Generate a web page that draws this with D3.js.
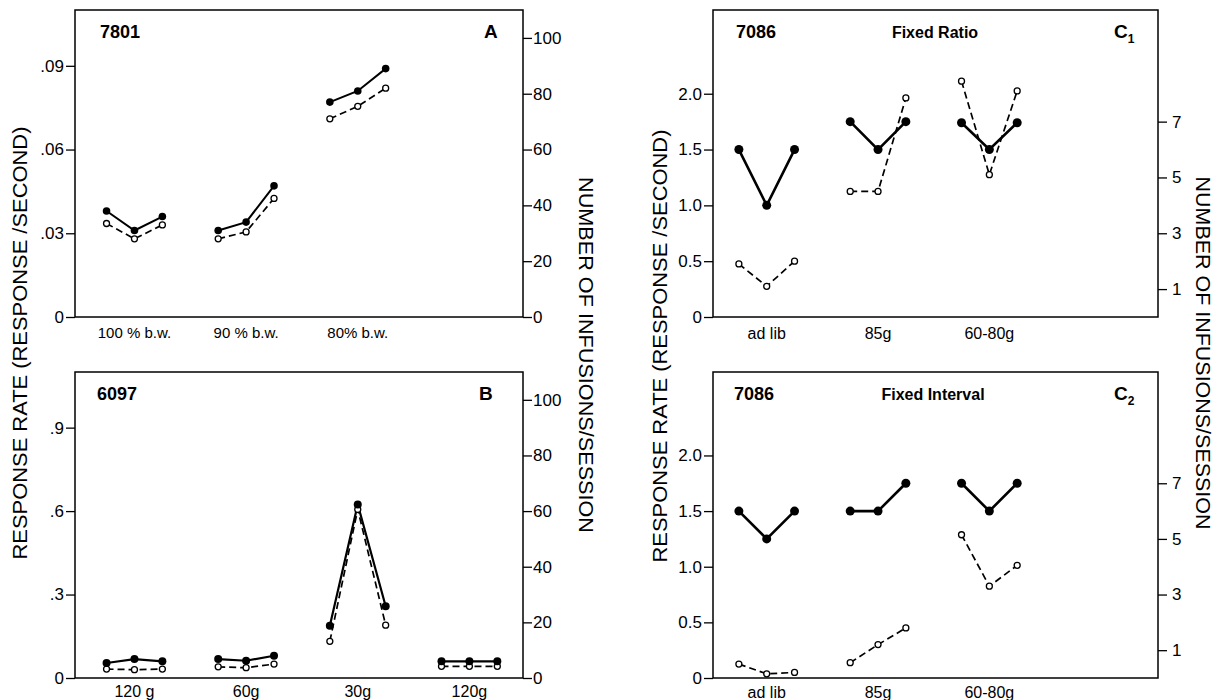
<!DOCTYPE html>
<html>
<head>
<meta charset="utf-8">
<script src="https://cdn.jsdelivr.net/npm/d3@7"></script>
<style>
  body { margin: 0; background: #fff; }
  text { font-family: "Liberation Sans", Arial, sans-serif; fill: #000; }
</style>
</head>
<body>
<svg width="1219" height="700"></svg>
<script>
// panel A, rat 7801 (left axis: responses/second, right axis: infusions/session)
var groupsA = ["100 % b.w.", "90 % b.w.", "80% b.w."];
var rateA = [[0.038, 0.031, 0.036], [0.031, 0.034, 0.047], [0.077, 0.081, 0.089]];
var infusionsA = [[33.5, 28, 33], [28, 30.5, 42.5], [71, 75.5, 82]];

// panel B, rat 6097
var groupsB = ["120 g", "60g", "30g", "120g"];
var rateB = [[0.054, 0.068, 0.06], [0.068, 0.062, 0.08], [0.188, 0.624, 0.258], [0.06, 0.06, 0.06]];
var infusionsB = [[3.2, 3, 3.2], [4, 3.7, 5], [13.2, 60.6, 19], [4.2, 4.2, 4.2]];

// panel C1, rat 7086 fixed ratio
var groupsC = ["ad lib", "85g", "60-80g"];
var rateC1 = [[1.5, 1.0, 1.5], [1.75, 1.5, 1.75], [1.74, 1.5, 1.74]];
var infusionsC1 = [[1.9, 1.1, 2.0], [4.5, 4.5, 7.85], [8.45, 5.1, 8.1]];

// panel C2, rat 7086 fixed interval
var rateC2 = [[1.5, 1.25, 1.5], [1.5, 1.5, 1.75], [1.75, 1.5, 1.75]];
var infusionsC2 = [[0.5, 0.15, 0.2], [0.55, 1.2, 1.8], [5.15, 3.3, 4.05]];

var ticksA = [0, 0.03, 0.06, 0.09];
var ticksB = [0, 0.3, 0.6, 0.9];
var ticksC = [0, 0.5, 1.0, 1.5, 2.0];
var ticksRightAB = [0, 20, 40, 60, 80, 100];
var ticksRightC = [1, 3, 5, 7];

var svg = d3.select("svg");

var fmtDot = function(d) { return d === 0 ? "0" : String(d).replace(/^0/, ""); };
var fmtOne = function(d) { return d === 0 ? "0" : d.toFixed(1); };

function drawPanel(p) {
    var g = svg.append("g");

    var x = d3.scaleLinear().domain(p.xDomain).range([p.left, p.right]);
    var y = d3.scaleLinear().domain([0, p.yMax]).range([p.bottom, p.top]);
    var y2 = d3.scaleLinear().domain([0, p.y2Max]).range([p.bottom, p.top]);

    g.append("rect")
        .attr("x", p.left).attr("y", p.top)
        .attr("width", p.right - p.left).attr("height", p.bottom - p.top)
        .attr("fill", "none").attr("stroke", "#000").attr("stroke-width", 1.5);

    var ax = g.append("g")
        .attr("transform", "translate(" + p.left + ",0)")
        .call(d3.axisLeft(y).tickValues(p.yTicks).tickFormat(p.yFormat).tickSize(9).tickPadding(2));
    ax.select(".domain").remove();

    var ax2 = g.append("g")
        .attr("transform", "translate(" + p.right + ",0)")
        .call(d3.axisRight(y2).tickValues(p.y2Ticks).tickFormat(d3.format("d")).tickSize(9).tickPadding(p.y2Pad));
    ax2.select(".domain").remove();

    g.selectAll(".tick line").attr("stroke", "#000").attr("stroke-width", 1.3);
    g.selectAll(".tick text").style("font-size", "17px").style("font-family", "Liberation Sans, Arial, sans-serif");

    g.selectAll(".cat")
        .data(p.groups)
      .enter().append("text")
        .attr("class", "cat")
        .attr("x", function(d, i) { return x(i * 4 + 1); })
        .attr("y", p.catY)
        .attr("text-anchor", "middle")
        .style("font-size", p.catSize + "px")
        .text(function(d) { return d; });

    var line = d3.line()
        .x(function(d) { return x(d.x); })
        .y(function(d) { return d.y; });

    p.rate.forEach(function(vals, gi) {
        var pts = vals.map(function(v, s) { return { x: gi * 4 + s, y: y(v) }; });
        var opts = p.inf[gi].map(function(v, s) { return { x: gi * 4 + s, y: y2(v) }; });

        g.append("path").datum(opts)
            .attr("d", line).attr("fill", "none")
            .attr("stroke", "#000").attr("stroke-width", 1.7)
            .attr("stroke-dasharray", "7,4");
        g.append("path").datum(pts)
            .attr("d", line).attr("fill", "none")
            .attr("stroke", "#000").attr("stroke-width", p.solidW);

        g.selectAll(null).data(opts)
          .enter().append("circle")
            .attr("cx", function(d) { return x(d.x); })
            .attr("cy", function(d) { return d.y; })
            .attr("r", 3).attr("fill", "#fff")
            .attr("stroke", "#000").attr("stroke-width", 1.3);
        g.selectAll(null).data(pts)
          .enter().append("circle")
            .attr("cx", function(d) { return x(d.x); })
            .attr("cy", function(d) { return d.y; })
            .attr("r", p.dotR).attr("fill", "#000");
    });

    g.append("text")
        .attr("x", p.idX).attr("y", p.top + 28)
        .style("font-size", "18px").style("font-weight", "bold")
        .text(p.id);

    if (p.schedule) {
        g.append("text")
            .attr("x", p.schedX).attr("y", p.top + 28)
            .attr("text-anchor", "middle")
            .style("font-size", "16px").style("font-weight", "bold")
            .text(p.schedule);
    }

    var lab = g.append("text")
        .attr("x", p.labX).attr("y", p.top + 28)
        .style("font-size", "19px").style("font-weight", "bold")
        .text(p.label);
    if (p.sub) {
        lab.append("tspan").attr("dy", 5).style("font-size", "12px").text(p.sub);
    }
}

var leftCol = { left: 75, right: 523, xDomain: [-1.13, 14.92] };
var rightCol = { left: 713, right: 1158, xDomain: [-0.93, 15.06] };

drawPanel(Object.assign({}, leftCol, {
    top: 10, bottom: 317, yMax: 0.11, y2Max: 110,
    yTicks: ticksA, yFormat: fmtDot, y2Ticks: ticksRightAB, y2Pad: 1,
    groups: groupsA, rate: rateA, inf: infusionsA, catY: 338, catSize: 15,
    solidW: 2, dotR: 3.8, id: "7801", idX: 100, label: "A", labX: 484
}));

drawPanel(Object.assign({}, leftCol, {
    top: 372, bottom: 678, yMax: 1.1, y2Max: 110,
    yTicks: ticksB, yFormat: fmtDot, y2Ticks: ticksRightAB, y2Pad: 1,
    groups: groupsB, rate: rateB, inf: infusionsB, catY: 697, catSize: 16,
    solidW: 2.2, dotR: 4, id: "6097", idX: 97, label: "B", labX: 479
}));

drawPanel(Object.assign({}, rightCol, {
    top: 10, bottom: 317, yMax: 2.75, y2Max: 11,
    yTicks: ticksC, yFormat: fmtOne, y2Ticks: ticksRightC, y2Pad: 5,
    groups: groupsC, rate: rateC1, inf: infusionsC1, catY: 339, catSize: 16,
    solidW: 2.6, dotR: 4.5, id: "7086", idX: 736, schedule: "Fixed Ratio", schedX: 935,
    label: "C", sub: "1", labX: 1114
}));

drawPanel(Object.assign({}, rightCol, {
    top: 372, bottom: 678, yMax: 2.75, y2Max: 11,
    yTicks: ticksC, yFormat: fmtOne, y2Ticks: ticksRightC, y2Pad: 5,
    groups: groupsC, rate: rateC2, inf: infusionsC2, catY: 698, catSize: 16,
    solidW: 2.6, dotR: 4.5, id: "7086", idX: 734, schedule: "Fixed Interval", schedX: 933,
    label: "C", sub: "2", labX: 1114
}));

// axis titles
function vTitle(txt, cx, cy, len, angle) {
    svg.append("text")
        .attr("transform", "translate(" + cx + "," + cy + ") rotate(" + angle + ")")
        .attr("text-anchor", "middle")
        .attr("dominant-baseline", "central")
        .attr("textLength", len)
        .attr("lengthAdjust", "spacingAndGlyphs")
        .style("font-size", "20px")
        .text(txt);
}
vTitle("RESPONSE RATE  (RESPONSE /SECOND)", 20, 343, 433, -90);
vTitle("NUMBER OF INFUSIONS/SESSION", 586, 355, 356, 90);
vTitle("RESPONSE RATE  (RESPONSE /SECOND)", 660, 346, 433, -90);
vTitle("NUMBER OF INFUSIONS/SESSION", 1203, 353, 353, 90);
</script>
</body>
</html>
